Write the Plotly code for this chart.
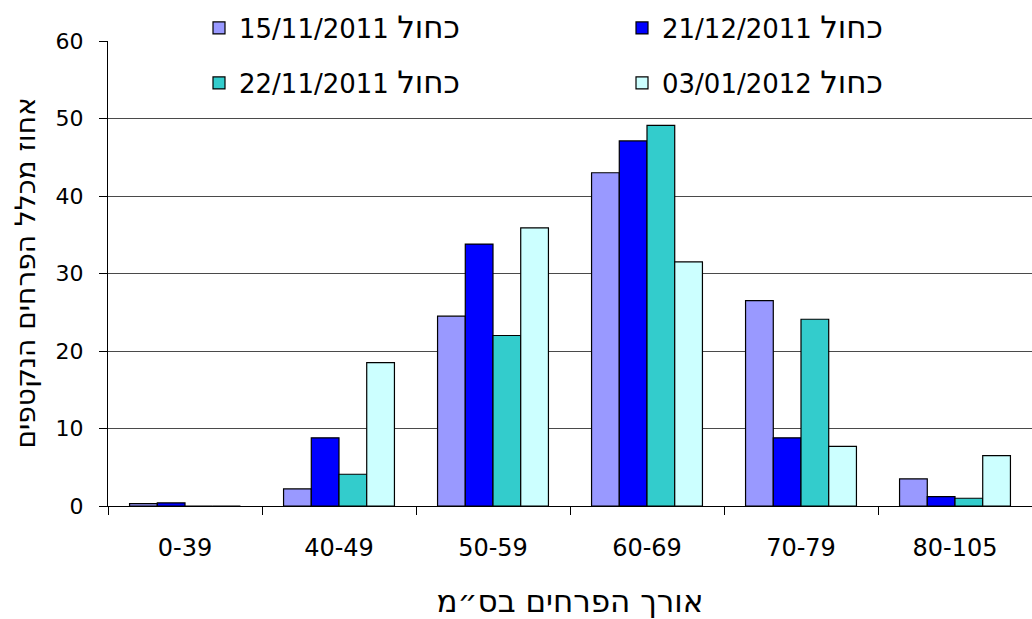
import plotly.graph_objects as go

categories = ["0-39", "40-49", "50-59", "60-69", "70-79", "80-105"]
series_dates = ["15/11/2011", "21/12/2011", "22/11/2011", "03/01/2012"]
series_word = "כחול"
s_15_11_2011 = [0.3, 2.2, 24.5, 43.0, 26.5, 3.5]
s_21_12_2011 = [0.4, 8.8, 33.8, 47.1, 8.8, 1.2]
s_22_11_2011 = [0.0, 4.1, 22.0, 49.1, 24.1, 1.0]
s_03_01_2012 = [0.0, 18.5, 35.9, 31.5, 7.7, 6.5]
colors = ["#9999FF", "#0000FF", "#33CCCC", "#CCFFFF"]
legend_ids = ["legend", "legend2", "legend3", "legend4"]
y_ticks = [0, 10, 20, 30, 40, 50, 60]
x_title = "אורך הפרחים בס״מ"
y_title = "אחוז מכלל הפרחים הנקטפים"

FONT = "DejaVu Sans"

fig = go.Figure()
for date, vals, col, lg in zip(series_dates,
                               [s_15_11_2011, s_21_12_2011, s_22_11_2011, s_03_01_2012],
                               colors, legend_ids):
    label = f"{date} <span style='font-size:31px'>{series_word}</span>"
    fig.add_trace(go.Bar(
        x=categories, y=vals, name=label, legend=lg, showlegend=True,
        marker=dict(color=col, line=dict(color="#000000", width=1.2)),
    ))

leg_common = dict(
    orientation="h", xref="container", yref="container",
    xanchor="left", yanchor="middle",
    bgcolor="rgba(0,0,0,0)", borderwidth=0,
    font=dict(family=FONT, size=26, color="#000000"),
)
leg_x = [199, 622, 199, 622]
leg_y = [28, 28, 83, 83]

fig.update_layout(
    width=1032, height=619,
    showlegend=True,
    margin=dict(l=108, r=0, t=41, b=113, autoexpand=False),
    paper_bgcolor="white", plot_bgcolor="white",
    font=dict(family=FONT, color="#000000"),
    barmode="group", bargap=0.28, bargroupgap=0,
    xaxis=dict(
        type="category", tickson="boundaries",
        ticks="outside", ticklen=8, tickcolor="#000000", tickwidth=1,
        showline=True, linecolor="#000000", linewidth=1,
        showgrid=False,
        tickfont=dict(family=FONT, size=24, color="#000000"),
        ticklabelstandoff=20,
        title=dict(text=x_title, font=dict(family=FONT, size=31, color="#000000"),
                   standoff=29),
    ),
    yaxis=dict(
        range=[0, 60], tickvals=y_ticks,
        ticks="outside", ticklen=8, tickcolor="#000000", tickwidth=1,
        showline=True, linecolor="#000000", linewidth=1,
        showgrid=True, gridcolor="#4a4a4a", gridwidth=1, zeroline=False,
        tickfont=dict(family=FONT, size=22, color="#000000"),
        ticklabelstandoff=11,
    ),
    annotations=[dict(text=y_title, textangle=-90, xref="paper", yref="paper",
                      x=(25 - 108) / 924, y=0.5, xanchor="center", yanchor="middle",
                      showarrow=False, font=dict(family=FONT, size=28, color="#000000"))],
    shapes=[dict(type="rect", xref="paper", yref="paper",
                 x0=(123 - 108) / 924, x1=(969 - 108) / 924, y0=0.99, y1=1.2,
                 fillcolor="white", line=dict(width=0), layer="above")],
)
for i, lg in enumerate(legend_ids):
    fig.update_layout({lg: dict(x=leg_x[i] / 1032, y=1 - leg_y[i] / 619, **leg_common)})

fig.write_html("out.html", config={"displayModeBar": False},
               post_script="document.body.style.margin='0';document.body.style.overflow='hidden';")
